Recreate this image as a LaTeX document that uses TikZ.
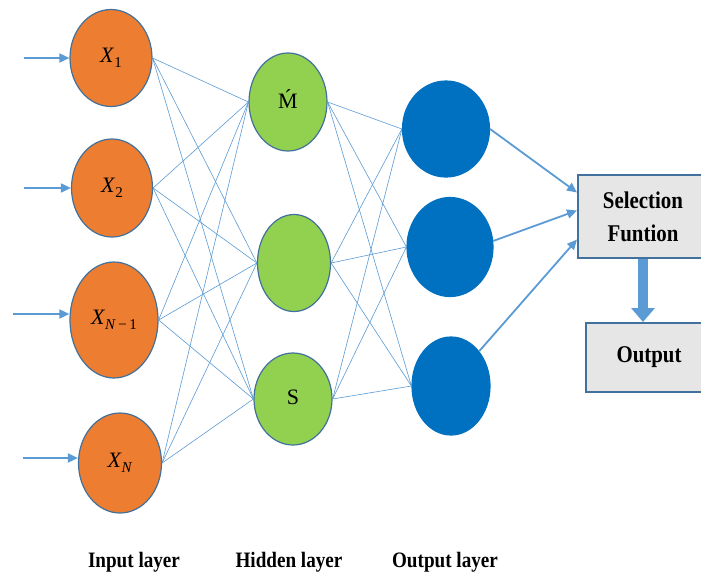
\RequirePackage{fix-cm}
\documentclass[tikz,border=0pt]{standalone}
\usepackage{fontspec}
\setmainfont{Liberation Serif}
\newfontfamily\narrowfont[FakeStretch=0.87]{Liberation Serif}
\usetikzlibrary{shapes.geometric, arrows.meta, positioning}
\definecolor{inputcolor}{RGB}{237,125,49}
\definecolor{hiddencolor}{RGB}{146,208,80}
\definecolor{outputcolor}{RGB}{0,112,192}
\definecolor{linkcolor}{RGB}{91,155,213}
\definecolor{rimcolor}{RGB}{65,113,156}
\definecolor{boxcolor}{RGB}{231,230,230}
% input symbol with an upright-ish lowered index
\newcommand{\xsub}[1]{\textit{X}\raisebox{-5pt}{\fontsize{15}{15}\selectfont #1}}

\begin{document}
\begin{tikzpicture}[
    x=1pt, y=-1pt,
    neuron/.style={ellipse, draw=rimcolor, line width=1.2pt, inner sep=0pt, font=\fontsize{22}{24}\selectfont},
    inneuron/.style={neuron, fill=inputcolor},
    hidneuron/.style={neuron, fill=hiddencolor},
    outneuron/.style={neuron, fill=outputcolor, draw=outputcolor},
    link/.style={linkcolor, line width=0.6pt},
    feed/.style={-{Triangle[length=10pt,width=9pt]}, linkcolor, line width=1.8pt},
    block/.style={draw=rimcolor, line width=2pt, fill=boxcolor, align=center, font=\narrowfont\bfseries\fontsize{24}{33}\selectfont},
    layername/.style={font=\narrowfont\bfseries\fontsize{22}{24}\selectfont}
]
    \fill[white] (0,0) rectangle (701,579);
    \useasboundingbox (0,0) rectangle (701,579);

    % Input layer
    \node[inneuron, minimum width=82pt, minimum height=97pt] (x1) at (111,58) {\xsub{1}};
    \node[inneuron, minimum width=81pt, minimum height=98pt] (x2) at (112,188) {\xsub{2}};
    \node[inneuron, minimum width=88pt, minimum height=116pt] (xn1) at (114,320) {\xsub{\textit{N}\,−\,1}};
    \node[inneuron, minimum width=83pt, minimum height=100pt] (xn) at (120,463) {\xsub{\textit{N}}};

    % Hidden layer
    \node[hidneuron, minimum width=78pt, minimum height=98pt] (m) at (288,102) {\raisebox{5pt}{\'M}};
    \node[hidneuron, minimum width=73pt, minimum height=97pt] (h) at (294,263) {};
    \node[hidneuron, minimum width=78pt, minimum height=92pt] (s) at (293,399) {\raisebox{4pt}{S}};

    % Output layer
    \node[outneuron, minimum width=87pt, minimum height=96pt] (o1) at (446,129) {};
    \node[outneuron, minimum width=86pt, minimum height=99pt] (o2) at (450,247) {};
    \node[outneuron, minimum width=78pt, minimum height=98pt] (o3) at (451,386) {};

    % Full connections between the layers
    \foreach \a in {x1,x2,xn1,xn}
        \foreach \b in {m,h,s}
            \draw[link] (\a.east) -- (\b.west);
    \foreach \a in {m,h,s}
        \foreach \b in {o1,o2,o3}
            \draw[link] (\a.east) -- (\b.west);

    % Inputs
    \coordinate (in1) at (24,58);
    \coordinate (in2) at (24,188);
    \coordinate (in3) at (13,314);
    \coordinate (in4) at (23,458);
    \draw[feed] (in1) -- (in1 -| x1.west);
    \draw[feed] (in2) -- (in2 -| x2.west);
    \draw[feed] (in3) -- (in3 -| xn1.west);
    \draw[feed] (in4) -- (in4 -| xn.west);

    % Selection and final output
    \node[block, minimum width=130pt, minimum height=83pt] (sel) at (643,216.5) {Selection\\Funtion};
    \node[block, minimum width=126pt, minimum height=69pt] (out) at (649,357.5) {Output};

    \draw[feed] (o1.east) -- ([yshift=24pt]sel.west);
    \draw[feed] (o2.8) -- ([yshift=6pt]sel.west);
    \draw[feed] (o3.51) -- ([yshift=-23pt]sel.west);
    \draw[-{Triangle[length=14pt,width=23pt]}, line width=10pt, linkcolor] (sel.south) -- (sel.south |- out.north);

    % Layer names
    \node[layername] (lin) at (134,562) {Input layer};
    \node[layername] (lhid) at (289,562) {Hidden layer};
    \node[layername] (lout) at (445,562) {Output layer};
\end{tikzpicture}
\end{document}
